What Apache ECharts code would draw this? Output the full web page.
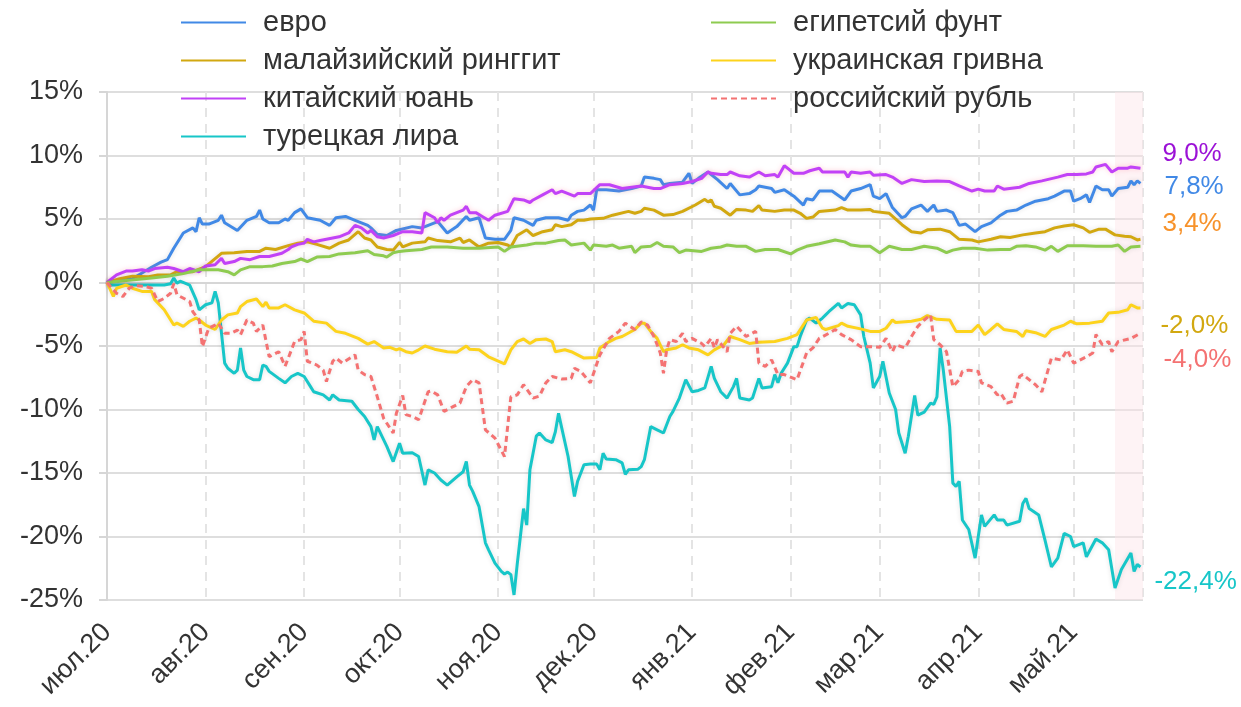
<!DOCTYPE html>
<html><head><meta charset="utf-8">
<script src="https://cdn.jsdelivr.net/npm/echarts@6/dist/echarts.min.js"></script>
<style>html,body{margin:0;padding:0;background:#fff}#c{width:1241px;height:707px}</style>
</head><body><div id="c"></div>
<script>
// x values are days since 1 July 2020
const axisStartDay = 0;
const axisEndDay = 325.8;
const shadeStartDay = 317;
const monthNames = ['янв','фев','мар','апр','май','июн','июл','авг','сен','окт','ноя','дек'];
const yTicks = {min: -25, max: 15, step: 5};

const eur = [[0,0],[8,0.3],[14,1.2],[17,1.6],[19,1.8],[21,2.7],[24,3.9],[27,4.3],[28,4.0],[29,5.1],[30,4.6],[32,4.6],[35,4.9],[36,5.3],[37,4.7],[41,4.1],[44,4.9],[47,5.2],[48,5.7],[49,5.0],[51,4.7],[54,4.7],[56,5.0],[57,4.9],[59,5.5],[61,5.8],[63,5.1],[67,4.9],[70,4.5],[72,5.1],[75,5.2],[78,4.9],[82,4.5],[83,4.3],[85,3.8],[88,3.7],[91,4.1],[96,4.4],[99,4.3],[104,4.8],[107,3.9],[110,4.4],[113,5.2],[114,4.9],[117,5.1],[119,3.5],[122,3.4],[125,3.4],[127,4.1],[128,5.1],[131,4.9],[134,4.5],[135,4.9],[138,5.1],[142,5.1],[145,4.9],[146,5.3],[148,5.6],[150,5.7],[152,6.1],[153,5.7],[154,7.3],[157,7.3],[161,7.2],[165,7.4],[168,7.6],[169,8.3],[172,8.2],[174,8.1],[175,7.7],[177,7.8],[181,7.9],[183,8.6],[184,7.8],[186,8.2],[189,8.7],[192,8.1],[195,7.4],[196,7.8],[199,6.9],[202,7.0],[204,7.3],[205,7.6],[209,7.4],[210,7.1],[213,7.3],[216,6.8],[219,6.1],[220,6.6],[222,6.5],[224,7.2],[228,7.2],[232,6.5],[234,7.2],[237,7.4],[240,7.7],[241,6.8],[243,6.6],[245,7.0],[247,5.9],[250,5.1],[251,5.2],[253,5.8],[256,6.1],[258,5.6],[260,6.1],[261,5.6],[264,5.7],[266,5.5],[268,4.5],[270,4.6],[273,4.0],[275,4.4],[278,4.7],[281,5.3],[283,5.6],[286,5.7],[289,6.1],[292,6.4],[296,6.6],[298,6.8],[301,7.2],[303,7.2],[304,6.4],[306,6.6],[308,6.9],[309,6.3],[311,7.6],[313,7.3],[315,7.3],[316,6.8],[318,7.4],[321,7.5],[322,8.0],[323,7.7],[324,8.0],[325,7.8]];

const myr = [[0,0],[4,0.3],[8,0.5],[13,0.45],[16,0.6],[20,0.6],[22,0.85],[27,0.85],[31,1.25],[36,2.3],[40,2.35],[44,2.45],[48,2.45],[50,2.7],[53,2.6],[57,2.9],[60,3.1],[63,3.2],[66,3.0],[70,2.7],[73,3.1],[76,3.35],[79,4.0],[81,3.5],[83,3.35],[85,2.8],[88,2.6],[90,2.55],[92,3.15],[93,2.8],[96,3.1],[100,3.2],[101,3.5],[104,3.3],[108,3.2],[111,3.5],[112,3.15],[114,3.35],[117,2.8],[120,3.1],[123,3.15],[126,2.95],[127,2.8],[129,3.7],[132,4.15],[134,3.7],[137,4.0],[140,4.15],[141,4.55],[143,4.4],[146,4.55],[148,4.9],[150,4.9],[152,5.0],[156,5.05],[159,5.3],[164,5.6],[166,5.45],[168,5.6],[169,5.85],[172,5.7],[175,5.3],[178,5.35],[181,5.6],[185,6.1],[188,6.55],[189,6.35],[190,6.5],[191,6.0],[193,5.85],[196,5.3],[198,5.75],[201,5.7],[203,5.6],[205,6.05],[206,5.7],[210,5.6],[213,5.7],[216,5.7],[218,5.45],[220,5.05],[222,5.15],[224,5.6],[229,5.7],[231,5.9],[233,5.7],[237,5.7],[240,5.75],[241,5.6],[246,5.45],[250,4.55],[253,4.0],[256,3.9],[258,4.15],[262,4.2],[265,4.0],[268,3.4],[272,3.35],[274,3.2],[278,3.4],[281,3.6],[284,3.55],[288,3.75],[292,3.9],[295,4.0],[298,4.3],[301,4.45],[304,4.55],[307,4.3],[309,3.95],[312,4.2],[314,4.2],[317,3.75],[320,3.65],[322,3.6],[324,3.35],[325,3.4]];

const cny = [[0,0],[3,0.6],[6,0.9],[8,0.9],[11,1.0],[13,0.9],[15,1.1],[19,1.2],[21,1.1],[24,0.85],[26,1.1],[29,0.85],[31,1.3],[34,1.4],[36,1.9],[37,1.5],[40,1.65],[42,1.9],[45,1.8],[48,2.05],[51,2.05],[55,2.3],[57,2.6],[58,2.8],[60,3.0],[62,3.1],[63,3.4],[65,3.2],[67,3.3],[69,3.4],[71,3.5],[73,3.6],[76,3.9],[78,4.5],[80,4.3],[82,3.9],[83,4.1],[85,3.6],[87,3.5],[90,3.7],[93,4.0],[96,4.0],[99,3.9],[100,5.5],[103,5.1],[104,4.7],[105,5.1],[106,4.9],[108,5.3],[110,5.5],[112,5.7],[113,6.0],[114,5.5],[116,5.5],[118,5.2],[120,4.9],[122,5.3],[126,5.6],[128,6.6],[131,6.5],[133,6.3],[134,6.5],[137,6.9],[140,7.3],[141,7.0],[143,7.2],[147,6.8],[148,7.0],[152,7.0],[155,7.7],[158,7.7],[162,7.4],[168,7.6],[172,7.4],[174,7.4],[177,7.7],[181,7.8],[184,7.95],[187,8.2],[189,8.7],[190,8.6],[193,8.5],[195,8.5],[196,8.7],[199,8.4],[202,8.3],[205,8.7],[207,8.4],[210,8.5],[211,8.3],[213,9.2],[216,8.6],[219,8.6],[221,8.8],[224,9.0],[225,8.7],[228,8.7],[232,8.7],[233,8.3],[234,8.7],[237,8.6],[240,8.7],[241,8.45],[245,8.5],[247,8.3],[250,7.8],[253,8.1],[257,7.95],[261,8.0],[265,7.95],[268,7.6],[272,7.2],[274,7.35],[276,7.2],[279,7.2],[280,7.6],[282,7.35],[287,7.5],[290,7.8],[294,8.0],[299,8.3],[302,8.5],[305,8.5],[308,8.55],[310,8.7],[311,9.1],[314,9.3],[316,8.7],[318,9.0],[321,9.0],[322,9.1],[325,9.0]];

const tryl = [[0,0],[1,-0.2],[4,-0.2],[8,-0.2],[13,-0.2],[18,-0.2],[20,-0.1],[21,0.35],[22,-0.05],[23,0.1],[26,-0.2],[28,-1.35],[29,-2.15],[31,-1.75],[33,-1.6],[34,-0.7],[35,-1.6],[37,-6.35],[38,-6.75],[40,-7.15],[41,-6.9],[42,-5.15],[43,-6.9],[44,-7.4],[46,-7.65],[48,-7.65],[49,-6.5],[50,-6.6],[51,-7.0],[54,-7.55],[56,-7.9],[58,-7.4],[60,-7.15],[62,-7.4],[64,-8.2],[65,-8.6],[68,-8.85],[70,-9.25],[71,-8.85],[73,-9.25],[77,-9.35],[79,-10.0],[81,-10.55],[83,-11.35],[84,-12.4],[85,-11.35],[88,-12.9],[90,-14.1],[92,-12.65],[93,-13.45],[96,-13.4],[98,-13.7],[100,-15.95],[101,-14.75],[103,-15.0],[105,-15.55],[107,-15.95],[110,-15.3],[112,-14.9],[113,-14.1],[114,-15.95],[115,-16.45],[117,-17.65],[119,-20.5],[120,-21.05],[122,-22.1],[124,-22.75],[125,-22.95],[126,-22.8],[127,-23.0],[128,-24.6],[129,-22.2],[130,-20.0],[131,-17.8],[132,-19.1],[133,-14.75],[135,-12.1],[136,-11.85],[138,-12.4],[140,-12.6],[141,-11.75],[142,-10.3],[143,-11.45],[145,-13.7],[147,-16.85],[148,-15.65],[150,-14.35],[152,-14.3],[154,-14.3],[155,-14.75],[156,-13.45],[157,-13.9],[160,-13.95],[162,-14.2],[163,-15.1],[164,-14.75],[167,-14.7],[168,-14.5],[169,-13.95],[171,-11.35],[173,-11.6],[175,-11.85],[177,-10.55],[178,-10.15],[180,-9.1],[182,-7.65],[184,-8.6],[186,-8.5],[188,-8.3],[190,-6.6],[191,-7.55],[193,-8.6],[195,-9.1],[197,-8.2],[198,-7.55],[199,-9.1],[202,-9.25],[203,-9.1],[205,-7.55],[206,-8.3],[209,-8.2],[210,-7.25],[211,-7.9],[212,-7.15],[214,-6.35],[216,-5.05],[217,-5.05],[218,-4.25],[220,-2.95],[221,-2.8],[223,-3.2],[225,-2.8],[226,-2.55],[227,-2.3],[230,-1.65],[231,-2.0],[233,-1.65],[235,-1.75],[237,-2.55],[238,-4.25],[240,-6.35],[241,-8.3],[243,-7.4],[244,-6.2],[246,-8.7],[248,-10.0],[249,-11.85],[251,-13.45],[252,-12.1],[254,-8.9],[255,-10.45],[257,-10.2],[259,-9.5],[260,-9.6],[261,-9.0],[262,-5.15],[263,-6.9],[265,-11.35],[266,-15.8],[267,-16.05],[268,-15.65],[269,-18.7],[271,-19.45],[273,-21.7],[274,-20.0],[275,-18.3],[276,-19.2],[279,-18.3],[280,-18.7],[282,-18.7],[283,-19.1],[287,-18.8],[288,-17.4],[289,-17.0],[290,-17.8],[293,-18.3],[295,-20.3],[297,-22.4],[299,-21.7],[301,-19.75],[303,-20.0],[304,-20.8],[307,-20.5],[308,-21.6],[311,-20.2],[313,-20.5],[315,-21.05],[317,-24.05],[319,-22.6],[322,-21.3],[323,-22.75],[324,-22.2],[325,-22.4]];

const egp = [[0,0],[6,0.15],[14,0.35],[19,0.5],[24,0.7],[29,1.0],[35,1.0],[38,0.85],[40,0.6],[42,1.0],[45,1.25],[49,1.25],[52,1.3],[55,1.5],[59,1.65],[61,1.85],[63,1.65],[66,2.0],[70,2.05],[73,2.25],[78,2.35],[82,2.5],[84,2.2],[87,2.1],[88,2.0],[90,2.35],[92,2.45],[94,2.5],[99,2.6],[102,2.8],[107,2.8],[112,2.7],[117,2.7],[123,2.8],[125,2.45],[127,2.8],[132,2.95],[135,3.1],[138,3.1],[142,3.3],[144,3.35],[146,2.95],[150,3.1],[152,2.55],[153,2.95],[157,2.85],[159,2.95],[161,2.7],[165,2.85],[166,2.35],[168,2.8],[171,2.85],[173,3.15],[175,2.85],[178,2.8],[180,2.35],[182,2.55],[187,2.45],[190,2.7],[193,2.8],[195,2.95],[198,2.85],[201,2.85],[204,2.45],[207,2.6],[211,2.6],[215,2.25],[217,2.55],[220,2.85],[224,3.05],[229,3.35],[232,3.2],[234,2.95],[237,2.85],[240,2.85],[243,2.35],[246,2.85],[250,2.6],[253,2.6],[257,2.85],[261,2.7],[264,2.35],[266,2.55],[269,2.7],[273,2.7],[277,2.55],[281,2.6],[284,2.6],[286,2.85],[289,2.9],[292,2.8],[295,2.55],[297,2.85],[299,2.45],[302,2.9],[307,2.9],[311,2.85],[316,2.85],[318,2.95],[320,2.45],[322,2.8],[325,2.85]];

const uah = [[0,0],[2,-1.1],[3,-0.45],[6,-0.2],[8,-0.45],[11,-0.7],[14,-0.7],[15,-1.35],[18,-2.15],[21,-3.35],[22,-3.2],[24,-3.45],[26,-3.05],[28,-2.8],[29,-2.95],[31,-3.35],[34,-3.7],[36,-2.95],[38,-2.55],[41,-2.4],[42,-1.9],[44,-1.5],[47,-1.3],[49,-1.9],[50,-1.55],[51,-2.0],[54,-2.0],[56,-1.75],[59,-2.15],[62,-2.4],[65,-3.05],[69,-3.2],[72,-3.85],[75,-4.0],[79,-4.4],[82,-4.85],[84,-4.65],[87,-5.15],[89,-5.1],[91,-5.3],[92,-5.2],[94,-5.45],[96,-5.55],[98,-5.3],[100,-5.0],[103,-5.25],[107,-5.45],[110,-5.5],[113,-5.0],[114,-5.25],[117,-5.3],[120,-5.85],[125,-6.4],[127,-5.3],[129,-4.65],[131,-4.45],[133,-4.8],[135,-4.5],[138,-4.45],[140,-4.65],[141,-5.45],[144,-5.3],[146,-5.45],[150,-5.95],[154,-5.9],[155,-5.15],[158,-4.65],[160,-4.4],[162,-4.25],[166,-3.7],[168,-3.2],[169,-3.2],[171,-3.85],[173,-4.4],[175,-5.45],[176,-5.3],[179,-5.15],[181,-4.9],[183,-5.15],[186,-5.3],[189,-5.7],[191,-5.3],[194,-4.9],[196,-4.25],[199,-4.5],[202,-4.8],[205,-4.7],[210,-4.65],[214,-4.4],[217,-4.1],[220,-2.95],[223,-2.75],[225,-3.6],[226,-3.7],[230,-3.4],[231,-3.2],[233,-3.45],[237,-3.65],[240,-3.85],[243,-3.85],[245,-3.6],[247,-2.95],[248,-3.15],[253,-3.05],[256,-2.9],[258,-2.6],[261,-2.9],[265,-2.95],[267,-3.85],[272,-3.85],[274,-3.35],[276,-4.1],[278,-3.7],[280,-3.25],[282,-3.7],[286,-3.85],[288,-4.25],[289,-3.8],[292,-3.95],[295,-4.25],[297,-3.7],[301,-3.35],[303,-3.05],[305,-3.25],[309,-3.2],[313,-3.05],[315,-2.4],[318,-2.35],[321,-2.15],[322,-1.75],[324,-2.0],[325,-2.0]];

const rub = [[0,0],[1,-0.3],[3,-0.85],[5,-1.1],[7,-0.45],[9,-0.25],[12,-0.3],[14,-0.45],[16,-1.5],[18,-1.25],[20,-0.85],[21,-0.1],[22,-0.95],[23,-1.1],[26,-1.5],[27,-2.3],[29,-2.95],[30,-5.05],[32,-3.6],[34,-3.35],[35,-3.2],[37,-4.0],[39,-4.0],[41,-3.75],[42,-4.1],[44,-2.95],[46,-3.2],[47,-3.85],[49,-3.35],[51,-5.85],[54,-5.45],[56,-6.6],[59,-4.65],[61,-4.5],[62,-3.85],[63,-6.2],[66,-6.5],[68,-6.9],[69,-7.8],[71,-6.2],[72,-5.95],[74,-6.35],[78,-5.7],[79,-6.9],[81,-7.25],[83,-7.4],[85,-9.0],[87,-10.7],[90,-11.85],[91,-10.3],[93,-8.9],[94,-10.4],[96,-10.55],[98,-10.8],[101,-8.6],[102,-8.55],[104,-8.85],[106,-10.15],[109,-9.75],[111,-9.5],[113,-8.2],[115,-7.65],[117,-7.9],[119,-11.6],[122,-12.25],[125,-13.7],[127,-9.0],[129,-8.85],[131,-8.05],[134,-9.1],[136,-8.95],[138,-7.9],[140,-7.4],[143,-7.6],[146,-7.55],[147,-6.75],[149,-7.0],[152,-7.9],[155,-5.7],[158,-4.4],[161,-3.85],[163,-3.2],[166,-3.7],[168,-3.1],[170,-3.35],[172,-4.25],[174,-5.55],[175,-7.15],[176,-5.3],[177,-4.5],[179,-4.65],[181,-4.0],[182,-4.65],[184,-4.4],[187,-4.8],[188,-5.05],[190,-4.4],[191,-5.15],[192,-4.5],[195,-5.45],[196,-4.0],[198,-3.45],[201,-4.25],[204,-3.85],[205,-6.35],[207,-6.6],[209,-6.1],[211,-7.25],[213,-7.25],[217,-7.65],[220,-5.55],[222,-5.15],[224,-4.4],[227,-4.0],[229,-3.7],[231,-4.1],[234,-4.5],[237,-5.05],[240,-5.05],[243,-5.1],[245,-4.4],[247,-5.45],[248,-4.9],[251,-5.15],[253,-4.25],[255,-3.45],[257,-2.95],[259,-2.55],[260,-4.5],[262,-4.9],[264,-5.45],[266,-8.2],[268,-7.65],[269,-7.0],[271,-6.9],[274,-7.0],[275,-7.9],[278,-8.2],[280,-8.85],[281,-8.7],[283,-9.5],[285,-9.35],[287,-7.4],[288,-7.25],[290,-7.65],[292,-8.05],[294,-8.6],[297,-5.95],[300,-6.1],[302,-5.3],[304,-6.35],[308,-5.85],[310,-5.55],[311,-4.1],[313,-4.9],[315,-4.65],[316,-5.45],[318,-4.65],[322,-4.4],[325,-4.0]];

const seriesNames = ['евро','малайзийский ринггит','китайский юань','турецкая лира','египетсий фунт','украинская гривна','российский рубль'];
const seriesData = [eur, myr, cny, tryl, egp, uah, rub];
const seriesColors = ['#4189e6','#d2a810','#c142f7','#17c6c8','#8ecb50','#fdd31c','#f47272'];
const endLabelTexts = ['7,8%','3,4%','9,0%','-22,4%','','-2,0%','-4,0%'];
const endLabelColors = ['#4189e6','#f7922a','#9b12d6','#17c6c8','','#d2a810','#f47272'];

const DAY = 86400000;
const base = new Date(2020, 6, 1).getTime();
const t = d => base + d * DAY;

// label placement tweaks (gap from line end, vertical shift)
const endLabelOffsets = [[24,3],[22,-15],[22,-14],[14,15],[0,0],[20,18],[23,27]];
const FONT = 'Liberation Sans, Arial, Helvetica, sans-serif';

const series = seriesNames.map((name, i) => {
  const s = {
    name, type: 'line', showSymbol: false, symbol: 'none',
    data: seriesData[i].map(p => [t(p[0]), p[1]]),
    lineStyle: {
      width: 3, color: seriesColors[i],
      type: i === 6 ? [6, 4] : 'solid',
      shadowColor: i === 2 ? 'rgba(255,110,140,0.35)' : 'rgba(0,0,0,0.12)',
      shadowBlur: 5
    },
    itemStyle: {color: seriesColors[i]},
    z: 2 + i,
    emphasis: {disabled: true}
  };
  if (endLabelTexts[i]) {
    s.endLabel = {
      show: true, formatter: endLabelTexts[i], color: endLabelColors[i],
      fontSize: 26, fontFamily: FONT,
      distance: endLabelOffsets[i][0], offset: [0, endLabelOffsets[i][1]]
    };
  }
  if (i === 0) {
    s.markArea = {
      silent: true,
      itemStyle: {color: 'rgba(252,228,232,0.45)'},
      data: [[{xAxis: t(shadeStartDay)}, {xAxis: t(axisEndDay)}]]
    };
  }
  return s;
});

const legendText = {fontSize: 29, color: '#333', fontFamily: FONT, padding: [0,0,0,12]};
const legendCommon = {orient: 'vertical', top: 8, padding: 0, itemWidth: 65, itemHeight: 4, itemGap: 9,
  itemStyle: {opacity: 0}, textStyle: legendText, selectedMode: false};
const chart = echarts.init(document.getElementById('c'));
chart.setOption({
  animation: false,
  backgroundColor: '#fff',
  textStyle: {fontFamily: FONT},
  legend: [
    Object.assign({data: seriesNames.slice(0,4), left: 180}, legendCommon),
    Object.assign({data: seriesNames.slice(4), left: 710}, legendCommon)
  ],
  grid: {left: 107, right: 98, top: 92, bottom: 107},
  xAxis: {
    type: 'time', min: t(axisStartDay), max: t(axisEndDay),
    minInterval: 28 * DAY, maxInterval: 31 * DAY, splitNumber: 11,
    axisLine: {show: true, lineStyle: {color: '#d6d6d6', width: 2}},
    axisTick: {show: false},
    axisLabel: {
      rotate: 45, fontSize: 27, color: '#333', margin: 28, hideOverlap: false,
      formatter: v => { const d = new Date(v); return monthNames[d.getMonth()] + '.' + String(d.getFullYear()).slice(2); }
    },
    splitLine: {show: true, lineStyle: {color: '#e4e4e4', width: 2, type: [9, 7]}}
  },
  yAxis: {
    type: 'value', min: yTicks.min, max: yTicks.max, interval: yTicks.step,
    axisLine: {show: true, lineStyle: {color: '#d6d6d6', width: 2}},
    axisTick: {show: true, length: 8, lineStyle: {color: '#d6d6d6', width: 2}},
    axisLabel: {fontSize: 27, color: '#333', margin: 24, formatter: '{value}%'},
    splitLine: {show: true, lineStyle: {color: '#dedede', width: 2}}
  },
  series
});
</script>
</body></html>
